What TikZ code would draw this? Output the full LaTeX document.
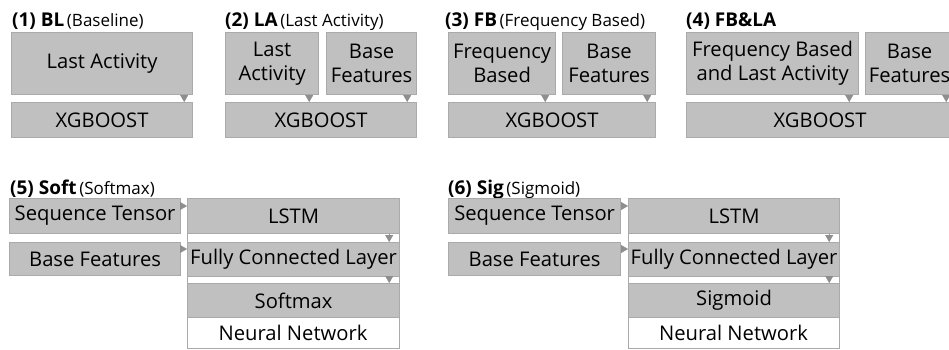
\documentclass[tikz,border=0pt]{standalone}
\usepackage{fontspec}
\setmainfont{Open Sans}
\usetikzlibrary{arrows.meta,calc}
\definecolor{boxfill}{HTML}{C0C0C0}
\definecolor{boxline}{HTML}{AAAAAA}
\definecolor{tipgray}{HTML}{8E8E8E}
\newcommand\boxfont{\fontsize{20.2}{24}\selectfont}
\newcommand\headfont{\bfseries\fontsize{19}{22}\selectfont}
\newcommand\subfont{\fontsize{17}{20}\selectfont}
\tikzset{
  blk/.style={draw=boxline, fill=boxfill, line width=1.2pt, inner sep=0pt,
    align=center, font=\boxfont, text=black},
  shell/.style={draw=boxline, fill=white, line width=1.2pt, inner sep=0pt},
  plain/.style={inner sep=0pt, font=\boxfont, text=black},
  heading/.style={inner sep=0pt, anchor=base west, text=black},
  conn/.style={-{Triangle[length=7pt,width=8pt]}, draw=tipgray, line width=0.3pt}
}
% box given by its top-left and bottom-right corners (y grows downwards)
\newcommand\gbox[6]{\node[blk, anchor=north west, minimum width={#4-#2}, minimum height={#5-#3}] (#1) at (#2,#3) {#6};}
\newcommand\shellbox[5]{\node[shell, anchor=north west, minimum width={#4-#2}, minimum height={#5-#3}] (#1) at (#2,#3) {};}
% small triangle connectors
\newcommand\downtip[3]{\path ([xshift=-#3pt]#1.south east) coordinate (#1-#2-s);
  \draw[conn] (#1-#2-s) -- (#1-#2-s |- #2.north);}
\newcommand\righttip[3]{\path ([yshift=-#3pt]#1.north east) coordinate (#1-#2-s);
  \draw[conn] (#1-#2-s) -- (#1-#2-s -| #2.west);}
\begin{document}
\begin{tikzpicture}[x=1pt,y=-1pt]
\useasboundingbox (0,0) rectangle (949,349);
\clip (0,0) rectangle (949,349);

% ---------- (1) BL ----------
\node[heading] (h1) at (12,26) {{\headfont (1) BL} {\subfont (Baseline)}};
\gbox{la1}{11}{32}{192}{94}{Last Activity}
\gbox{xg1}{11}{102}{192}{137}{XGBOOST}
\downtip{la1}{xg1}{9}

% ---------- (2) LA ----------
\node[heading] (h2) at (225,26) {{\headfont (2) LA} {\subfont (Last Activity)}};
\gbox{la2}{225}{32}{318}{94}{Last\\Activity}
\gbox{bf2}{326}{32}{416}{94}{Base\\Features}
\gbox{xg2}{225}{102}{416}{137}{XGBOOST}
\downtip{la2}{xg2}{10}
\downtip{bf2}{xg2}{10}

% ---------- (3) FB ----------
\node[heading] (h3) at (445,26) {{\headfont (3) FB} {\subfont (Frequency Based)}};
\gbox{fb3}{448}{32}{555}{94}{Frequency\\Based}
\gbox{bf3}{562}{32}{655}{94}{Base\\Features}
\gbox{xg3}{448}{102}{655}{137}{XGBOOST}
\downtip{fb3}{xg3}{11}
\downtip{bf3}{xg3}{9}

% ---------- (4) FB&LA ----------
\node[heading] (h4) at (686,26) {{\headfont (4) FB\&LA}};
\gbox{fl4}{686}{32}{858}{94}{Frequency Based\\and Last Activity}
\gbox{bf4}{865}{32}{953}{94}{Base\\Features}
\gbox{xg4}{686}{102}{953}{137}{XGBOOST}
\downtip{fl4}{xg4}{10}
\downtip{bf4}{xg4}{8}

% ---------- (5) Soft ----------
\node[heading] (h5) at (10,194) {{\headfont (5) Soft} {\subfont (Softmax)}};
\shellbox{nn5}{187}{198}{399}{348}
\gbox{st5}{9}{198}{180}{233}{Sequence Tensor}
\gbox{bf5}{9}{242}{180}{275}{Base Features}
\gbox{ls5}{187}{198}{399}{233}{LSTM}
\gbox{fc5}{187}{242}{399}{276}{Fully Connected Layer}
\gbox{sm5}{187}{283}{399}{317}{Softmax}
\node[plain] (nl5) at (293,333) {Neural Network};
\righttip{st5}{ls5}{8}
\righttip{bf5}{fc5}{7}
\downtip{ls5}{fc5}{11}
\downtip{fc5}{sm5}{11}

% ---------- (6) Sig ----------
\node[heading] (h6) at (448,194) {{\headfont (6) Sig} {\subfont (Sigmoid)}};
\shellbox{nn6}{628}{198}{839}{348}
\gbox{st6}{448}{198}{620}{233}{Sequence Tensor}
\gbox{bf6}{448}{242}{620}{275}{Base Features}
\gbox{ls6}{628}{198}{839}{233}{LSTM}
\gbox{fc6}{628}{242}{839}{276}{Fully Connected Layer}
\gbox{sg6}{628}{283}{839}{317}{Sigmoid}
\node[plain] (nl6) at (733.5,333) {Neural Network};
\righttip{st6}{ls6}{8}
\righttip{bf6}{fc6}{7}
\downtip{ls6}{fc6}{11}
\downtip{fc6}{sg6}{11}
\end{tikzpicture}
\end{document}
